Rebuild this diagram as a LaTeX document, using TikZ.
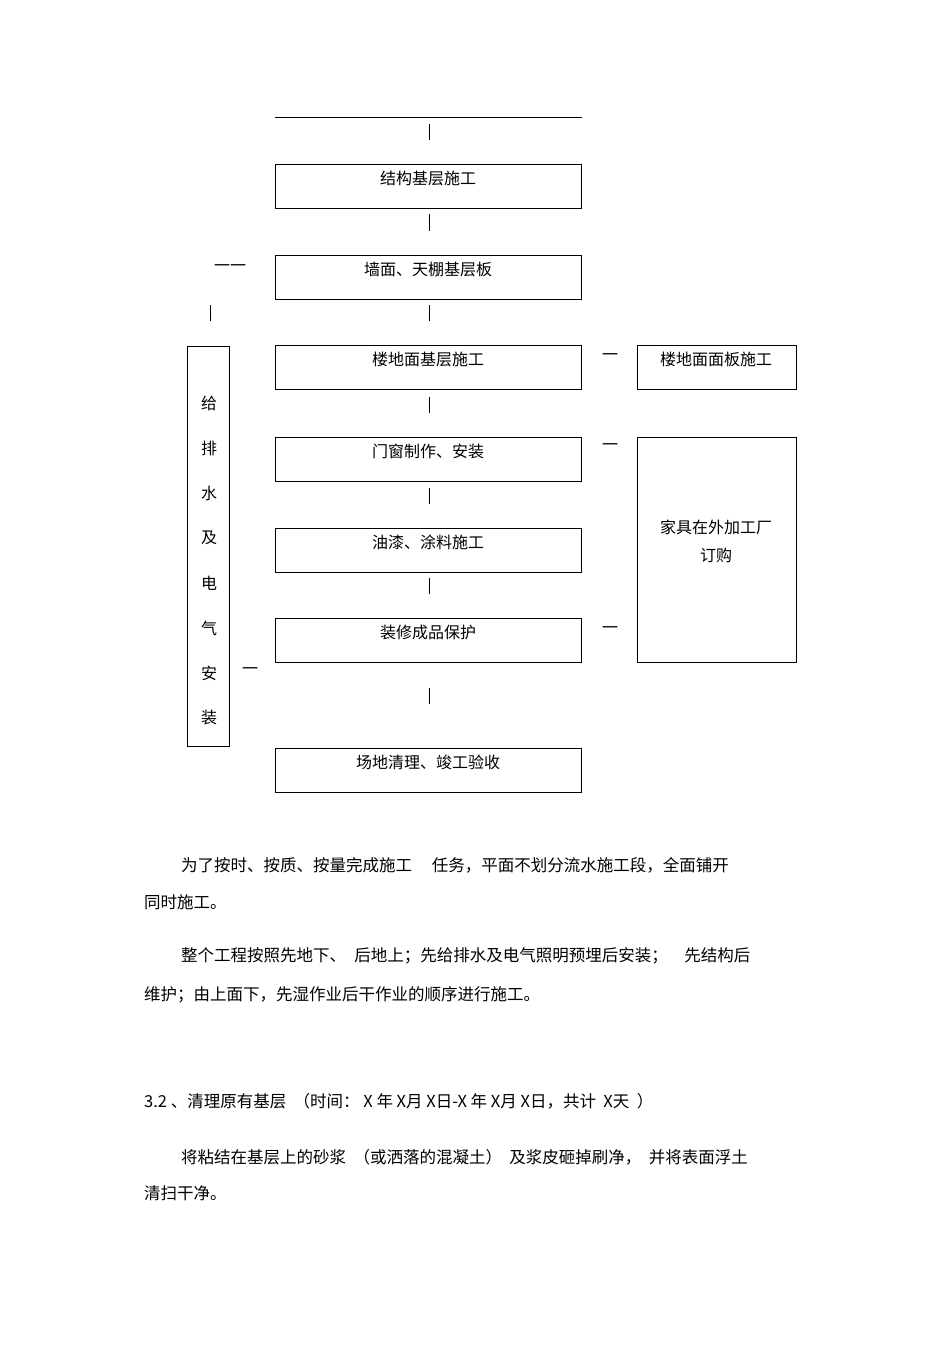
\documentclass[tikz,border=0pt]{standalone}
\usepackage{fontspec}
\newfontfamily\cjk{Noto Sans CJK SC}
\begin{document}
\begin{tikzpicture}[x=1pt,y=-1pt,
  bx/.style={draw,line width=0.8pt},
  lbl/.style={font=\cjk\fontsize{16}{16}\selectfont,anchor=center},
  para/.style={font=\cjk\fontsize{16.5}{17}\selectfont,anchor=west,inner sep=0pt},
  tk/.style={line width=0.7pt}]
\useasboundingbox (0,0) rectangle (950,1345);
\draw[tk] (275,117) -- (582,117);
\foreach \a/\b in {124/140,214/231,305/321,397/413,488/504,578/594,688/704}
  \draw[tk] (429,\a) -- (429,\b);
\foreach \n/\t/\y in {b1/结构基层施工/164,b2/墙面、天棚基层板/255,b3/楼地面基层施工/345,b4/门窗制作、安装/437,b5/油漆、涂料施工/528,b6/装修成品保护/618,b7/场地清理、竣工验收/748}{
  \draw[bx] (275,\y) rectangle (581,\y+44);
  \node[lbl] (\n) at (428,\y+14) {\t};
}
\draw[bx] (187,346) rectangle (229,746);
\foreach \c/\y in {给/403,排/448,水/493,及/538,电/583,气/628,安/673,装/717}
  \node[lbl] at (209,\y) {\c};
\node[lbl] (d1) at (230,268) {一一};
\draw[tk] (210,305) -- (210,321);
\node[lbl] (d2) at (250,671) {一};
\node[lbl] (d3) at (610,357) {一};
\node[lbl] (d4) at (610,447) {一};
\node[lbl] (d5) at (610,630) {一};
\draw[bx] (637,345) rectangle (796,389);
\node[lbl] (r1) at (716,359) {楼地面面板施工};
\draw[bx] (637,437) rectangle (796,662);
\node[lbl] (r2a) at (716,527) {家具在外加工厂};
\node[lbl] (r2b) at (716,555) {订购};
\node[para] (p1) at (181,865) {为了按时、按质、按量完成施工\hspace{1.2em}任务，平面不划分流水施工段，全面铺开};
\node[para] (p2) at (144,902) {同时施工。};
\node[para] (p3) at (181,956) {整个工程按照先地下、\hspace{0.5em}后地上；先给排水及电气照明预埋后安装；\hspace{1em}先结构后};
\node[para] (p4) at (144,995) {维护；由上面下，先湿作业后干作业的顺序进行施工。};
\node[para] (p5) at (144,1101) {3.2 、清理原有基层 \ （时间：\ X 年 X月 X日-X 年 X月 X日，共计 \ X天 \ ）};
\node[para] (p6) at (181,1157) {将粘结在基层上的砂浆 \ （或洒落的混凝土） \ 及浆皮砸掉刷净， \ 并将表面浮土};
\node[para] (p7) at (144,1193) {清扫干净。};
\end{tikzpicture}
\end{document}
